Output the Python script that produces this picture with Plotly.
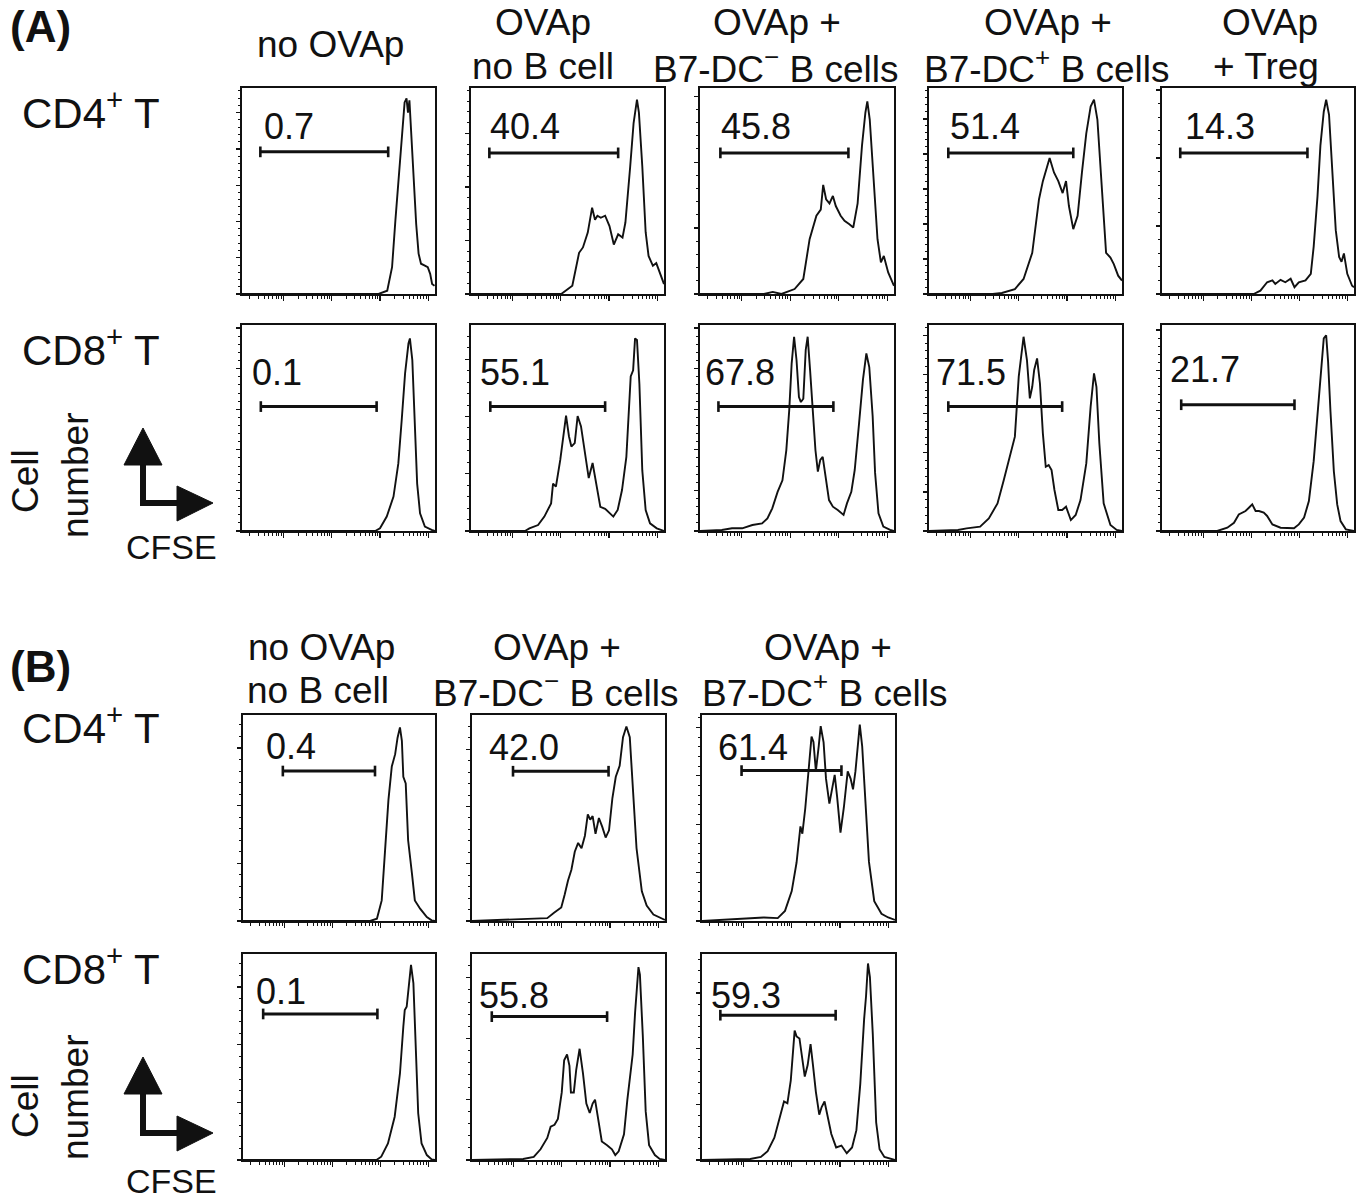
import numpy as np
import plotly.graph_objects as go

W, H = 1360, 1199
FONT = "Liberation Sans, Arial, Helvetica, sans-serif"
INK = "#111111"

# ---------------- DATA ----------------
# x = log10(CFSE intensity); y = cell number (% of panel scale)
# (A) CD4+ T
a4_noova_x = [-0.86, 1.97, 2.15, 2.25, 2.32, 2.39, 2.46, 2.51, 2.55, 2.58, 2.61, 2.64, 2.69, 2.75, 2.80, 2.85, 2.92, 2.99, 3.04, 3.08, 3.13]
a4_noova_y = [0, 0, 1.6, 13, 36, 58.7, 80, 93, 95, 88, 94, 81.6, 55.5, 34, 19.6, 14.7, 13.9, 13, 9.8, 4.9, 4]
a4_nob_x = [-0.86, 1.01, 1.24, 1.38, 1.46, 1.56, 1.65, 1.71, 1.76, 1.83, 1.92, 2.01, 2.10, 2.19, 2.28, 2.34, 2.44, 2.51, 2.58, 2.62, 2.69, 2.76, 2.82, 2.91, 2.98, 3.05, 3.14]
a4_nob_y = [0, 0, 4, 20, 22.6, 29.8, 41.9, 36, 38, 37, 38, 33, 24, 29, 27.4, 34.7, 62, 83, 94.4, 88, 62, 30, 18.5, 13.7, 15, 10.5, 4.8]
a4_neg_x = [-0.86, 0.46, 0.64, 0.82, 1.09, 1.27, 1.40, 1.54, 1.63, 1.68, 1.74, 1.81, 1.88, 1.94, 2.04, 2.12, 2.22, 2.30, 2.39, 2.48, 2.55, 2.59, 2.64, 2.71, 2.80, 2.87, 2.93, 3.02, 3.14]
a4_neg_y = [0, 0, 1, 0, 2.4, 7.3, 26.6, 38, 41, 53, 46, 44, 47.6, 42.7, 38, 35.5, 33.9, 32.3, 44, 72, 88, 93.5, 84.7, 58.9, 26.6, 15.3, 18.5, 10.5, 4]
a4_pos_x = [-0.86, 0.46, 0.65, 0.92, 1.10, 1.28, 1.42, 1.50, 1.64, 1.73, 1.82, 1.91, 1.98, 2.04, 2.13, 2.22, 2.31, 2.40, 2.49, 2.56, 2.63, 2.72, 2.81, 2.90, 2.97, 3.06, 3.14]
a4_pos_y = [0, 0, 0.5, 2.4, 7.3, 20, 46, 54.8, 66, 59, 54.8, 49, 54.8, 42.7, 31.5, 38, 59, 78, 91, 94.4, 84.7, 52, 20, 17.7, 14.5, 8.9, 6.5]
a4_treg_x = [-0.86, 1.05, 1.19, 1.33, 1.44, 1.50, 1.61, 1.71, 1.82, 1.90, 1.99, 2.13, 2.24, 2.30, 2.38, 2.44, 2.51, 2.56, 2.62, 2.69, 2.76, 2.83, 2.88, 2.93, 3.00, 3.10, 3.14]
a4_treg_y = [0, 0, 1.6, 5.7, 6.6, 4.9, 6.9, 5.7, 7.4, 3.3, 5.7, 6.6, 9.8, 23, 47.5, 72, 88.5, 94.3, 87, 55.7, 31, 18, 15.6, 19.7, 9.8, 4, 3.3]

# (A) CD8+ T
a8_noova_x = [-0.86, 1.90, 2.00, 2.14, 2.28, 2.38, 2.45, 2.52, 2.59, 2.62, 2.67, 2.72, 2.77, 2.83, 2.93, 3.07, 3.14]
a8_noova_y = [0, 0, 1.3, 7, 16.7, 32.8, 53.9, 76.5, 91, 93.5, 83, 54, 23, 8.6, 2.1, 0.5, 0]
a8_nob_x = [-0.86, 0.26, 0.35, 0.53, 0.66, 0.80, 0.84, 0.90, 0.99, 1.06, 1.11, 1.17, 1.22, 1.29, 1.35, 1.42, 1.51, 1.58, 1.66, 1.74, 1.82, 1.92, 2.00, 2.09, 2.18, 2.27, 2.36, 2.45, 2.50, 2.54, 2.58, 2.63, 2.69, 2.76, 2.85, 2.99, 3.14]
a8_nob_y = [0, 0, 1.3, 2.9, 7, 13.4, 23, 21.5, 34.5, 47.5, 56, 46, 41, 42.7, 55.8, 50.8, 37.9, 25.7, 33, 23, 11.7, 10.8, 9.2, 7, 10.2, 19.9, 36, 75, 78, 93.5, 92.7, 71.5, 29.4, 10.2, 3.7, 1.3, 0]
a8_neg_x = [-0.86, -0.41, -0.20, 0.01, 0.22, 0.42, 0.53, 0.63, 0.74, 0.84, 0.92, 0.98, 1.03, 1.08, 1.13, 1.18, 1.22, 1.27, 1.32, 1.36, 1.41, 1.46, 1.52, 1.57, 1.62, 1.67, 1.72, 1.80, 1.88, 1.98, 2.10, 2.17, 2.26, 2.33, 2.42, 2.50, 2.57, 2.63, 2.70, 2.75, 2.82, 2.92, 3.06, 3.14]
a8_neg_y = [0, 0.5, 1.3, 1.3, 2.9, 3.7, 6.1, 11, 19, 24.6, 39.3, 58.7, 81.4, 94.3, 83, 65, 62.6, 64.2, 87.9, 94.3, 78, 58.7, 39.3, 28.8, 34.5, 36, 28, 15, 11.8, 10.2, 7.8, 13.4, 19, 29.6, 52.4, 73.5, 86.2, 79.6, 55.7, 28.2, 8.6, 2.1, 0.5, 0]
a8_pos_x = [-0.86, -0.26, -0.08, 0.20, 0.38, 0.56, 0.69, 0.82, 0.92, 1.00, 1.10, 1.17, 1.23, 1.28, 1.32, 1.38, 1.44, 1.50, 1.56, 1.62, 1.68, 1.74, 1.82, 1.90, 1.98, 2.08, 2.18, 2.28, 2.40, 2.49, 2.56, 2.61, 2.67, 2.76, 2.90, 3.03, 3.14]
a8_pos_y = [0, 0.5, 1.3, 2.1, 6.1, 13.4, 24.8, 36, 45.8, 74.9, 94.3, 83, 64.4, 70, 78.2, 83.8, 71.5, 47.4, 31.2, 32, 29.6, 19.9, 10.2, 10.2, 11.8, 5.3, 7.8, 15, 32.8, 60.4, 76.5, 70, 42.7, 13.4, 2.9, 0.5, 0]
a8_treg_x = [-0.86, 0.29, 0.50, 0.64, 0.74, 0.81, 0.88, 0.95, 1.02, 1.09, 1.16, 1.26, 1.33, 1.44, 1.61, 1.89, 1.99, 2.10, 2.20, 2.30, 2.39, 2.46, 2.51, 2.56, 2.60, 2.65, 2.72, 2.79, 2.86, 2.97, 3.14]
a8_treg_y = [0, 0, 1.6, 4, 8, 8.9, 9.7, 11.3, 12.9, 9.7, 9.7, 8.9, 7.3, 3.2, 1.6, 1.3, 3.2, 6.5, 14.5, 33.9, 58, 80.6, 93.5, 95, 82.3, 58, 29, 12.9, 4.8, 0.8, 0]

# (B) CD4+ T
b4_noova_x = [-0.86, 1.79, 1.93, 2.03, 2.10, 2.17, 2.24, 2.31, 2.36, 2.41, 2.45, 2.48, 2.53, 2.58, 2.66, 2.72, 2.83, 2.97, 3.07, 3.14]
b4_noova_y = [0, 0, 1.1, 10, 34.4, 58.8, 75, 81, 89, 94, 87.5, 70, 66.8, 39.2, 23, 10, 6, 1.9, 0.3, 0]
b4_neg_x = [-0.86, 0.42, 0.70, 0.84, 0.99, 1.06, 1.13, 1.20, 1.27, 1.34, 1.41, 1.48, 1.54, 1.59, 1.64, 1.70, 1.77, 1.84, 1.91, 1.98, 2.05, 2.12, 2.20, 2.27, 2.34, 2.41, 2.48, 2.55, 2.66, 2.76, 2.90, 3.05, 3.14]
b4_neg_y = [0, 0.9, 1.4, 4, 6.6, 12.7, 19.7, 24.9, 33.6, 37.9, 35.3, 41.4, 51.8, 49.2, 50.9, 42.3, 50, 45.7, 40.5, 44, 59.7, 70, 75.3, 89.2, 94.4, 89.2, 64.8, 35.3, 14.4, 7.5, 3.1, 1.4, 0.5]
b4_pos_x = [-0.86, 0.14, 0.42, 0.71, 0.86, 1.00, 1.10, 1.18, 1.22, 1.28, 1.36, 1.41, 1.45, 1.50, 1.56, 1.60, 1.66, 1.71, 1.78, 1.84, 1.89, 1.94, 2.01, 2.08, 2.16, 2.22, 2.27, 2.32, 2.37, 2.41, 2.46, 2.53, 2.60, 2.71, 2.86, 3.00, 3.14]
b4_pos_y = [0, 1.4, 1.7, 1.4, 4.9, 14.5, 28.4, 45.9, 42.4, 54.6, 77.3, 89.5, 86.9, 72.8, 85, 94.6, 86.7, 69.1, 57, 65.6, 70.9, 60.4, 42.9, 55.1, 72.6, 69.1, 63.9, 72.6, 86.6, 95.3, 84.8, 55.1, 28.8, 9.6, 3.5, 1.7, 0.5]

# (B) CD8+ T
b8_noova_x = [-0.86, 1.92, 2.02, 2.16, 2.30, 2.41, 2.48, 2.51, 2.55, 2.61, 2.64, 2.69, 2.74, 2.79, 2.86, 2.97, 3.07, 3.14]
b8_noova_y = [0, 0, 1.6, 8, 21, 42, 64.7, 72.8, 74.4, 87.4, 94.7, 85.8, 58.3, 22.7, 8, 2.4, 0.3, 0]
b8_neg_x = [-0.86, 0.20, 0.42, 0.56, 0.70, 0.77, 0.85, 0.92, 1.00, 1.05, 1.11, 1.16, 1.19, 1.25, 1.30, 1.37, 1.44, 1.51, 1.58, 1.64, 1.69, 1.76, 1.83, 1.94, 2.04, 2.11, 2.18, 2.29, 2.36, 2.47, 2.52, 2.59, 2.62, 2.68, 2.74, 2.81, 2.93, 3.03, 3.14]
b8_neg_y = [0, 0.5, 1.5, 5.2, 10.7, 16.2, 17.1, 19.9, 32.8, 48.4, 51.2, 45.7, 32.8, 32.8, 43.8, 54, 42, 27.4, 22.8, 27.4, 29.3, 18.2, 9, 7.2, 5.2, 2.4, 4.2, 12.5, 29.3, 51.2, 71.5, 93.6, 90, 60.4, 23.6, 7.2, 2.4, 0.5, 0]
b8_pos_x = [-0.86, 0.14, 0.36, 0.50, 0.64, 0.75, 0.84, 0.91, 0.98, 1.06, 1.10, 1.16, 1.21, 1.27, 1.33, 1.39, 1.44, 1.50, 1.57, 1.62, 1.68, 1.75, 1.82, 1.92, 2.03, 2.14, 2.25, 2.34, 2.42, 2.50, 2.54, 2.58, 2.62, 2.68, 2.75, 2.82, 2.92, 3.14]
b8_pos_y = [0, 0.5, 1.5, 4.3, 10.8, 20, 28.4, 27.5, 38.7, 62.8, 60, 59, 49.6, 40.5, 46.1, 56.3, 46.1, 33.1, 22, 25.7, 28.4, 20, 12.6, 6.1, 7, 3.3, 6.1, 14.5, 36.8, 68.4, 79.6, 95.4, 88.8, 61, 18.2, 5.2, 1.5, 0]

# gate statistics (% divided cells), gate limits (log10 CFSE) and gate marker height
gate_pct_a4 = ["0.7", "40.4", "45.8", "51.4", "14.3"]
gate_lo_a4 = [-0.48, -0.48, -0.44, -0.46, -0.48]
gate_hi_a4 = [2.17, 2.19, 2.20, 2.13, 2.17]
gate_y_a4 = [69.0, 68.5, 68.5, 68.5, 68.5]

gate_pct_a8 = ["0.1", "55.1", "67.8", "71.5", "21.7"]
gate_lo_a8 = [-0.47, -0.46, -0.48, -0.46, -0.46]
gate_hi_a8 = [1.93, 1.92, 1.89, 1.90, 1.90]
gate_y_a8 = [60.4, 60.4, 60.4, 60.4, 61.3]

gate_pct_b4 = ["0.4", "42.0", "61.4"]
gate_lo_b4 = [-0.03, -0.01, -0.04]
gate_hi_b4 = [1.89, 1.97, 2.03]
gate_y_b4 = [72.8, 72.7, 73.0]

gate_pct_b8 = ["0.1", "55.8", "59.3"]
gate_lo_b8 = [-0.44, -0.45, -0.48]
gate_hi_b8 = [1.94, 1.94, 1.91]
gate_y_b8 = [70.9, 69.6, 70.3]

# ---------------- LAYOUT HELPERS ----------------
def px(x):
    return x / W

def py(y):
    return 1 - y / H

rows = {
    "a4": (88, 294), "a8": (325, 531), "b4": (715, 921), "b8": (954, 1160),
}
cols_a = [(242, 435), (471, 664), (700, 894), (929, 1122), (1162, 1354)]
cols_b = [(243, 435), (472, 665), (702, 895)]

panels = [
    # row, col box, x, y, gate index, label pos (fraction of panel), y tick spacing
    ("a4", cols_a[0], a4_noova_x, a4_noova_y, 0, (0.105, 0.815), 17.6),
    ("a4", cols_a[1], a4_nob_x, a4_nob_y, 1, (0.090, 0.815), 26),
    ("a4", cols_a[2], a4_neg_x, a4_neg_y, 2, (0.100, 0.815), 32),
    ("a4", cols_a[3], a4_pos_x, a4_pos_y, 3, (0.097, 0.815), 17),
    ("a4", cols_a[4], a4_treg_x, a4_treg_y, 4, (0.110, 0.815), 33),
    ("a8", cols_a[0], a8_noova_x, a8_noova_y, 0, (0.040, 0.77), 19.7),
    ("a8", cols_a[1], a8_nob_x, a8_nob_y, 1, (0.038, 0.77), 27.8),
    ("a8", cols_a[2], a8_neg_x, a8_neg_y, 2, (0.017, 0.77), 19.7),
    ("a8", cols_a[3], a8_pos_x, a8_pos_y, 3, (0.027, 0.77), 19),
    ("a8", cols_a[4], a8_treg_x, a8_treg_y, 4, (0.030, 0.785), 19.5),
    ("b4", cols_b[0], b4_noova_x, b4_noova_y, 0, (0.107, 0.846), 28),
    ("b4", cols_b[1], b4_neg_x, b4_neg_y, 1, (0.080, 0.84), 27.8),
    ("b4", cols_b[2], b4_pos_x, b4_pos_y, 2, (0.071, 0.84), 23.5),
    ("b8", cols_b[0], b8_noova_x, b8_noova_y, 0, (0.057, 0.82), 28),
    ("b8", cols_b[1], b8_neg_x, b8_neg_y, 1, (0.027, 0.80), 29.5),
    ("b8", cols_b[2], b8_pos_x, b8_pos_y, 2, (0.036, 0.80), 27),
]
gates = {
    "a4": (gate_pct_a4, gate_lo_a4, gate_hi_a4, gate_y_a4),
    "a8": (gate_pct_a8, gate_lo_a8, gate_hi_a8, gate_y_a8),
    "b4": (gate_pct_b4, gate_lo_b4, gate_hi_b4, gate_y_b4),
    "b8": (gate_pct_b8, gate_lo_b8, gate_hi_b8, gate_y_b8),
}

fig = go.Figure()
layout_axes = {}
annotations = []

for i, (row, (cx0, cx1), xs, ys, gi, (lx, ly), ydt) in enumerate(panels, start=1):
    xa = "x" if i == 1 else f"x{i}"
    ya = "y" if i == 1 else f"y{i}"
    ry0, ry1 = rows[row]
    pct, glo, ghi, gy = gates[row]

    fig.add_trace(go.Scatter(
        x=10 ** np.array(xs, dtype=float), y=ys, xaxis=xa, yaxis=ya,
        mode="lines", line=dict(color=INK, width=1.9),
        showlegend=False, hoverinfo="skip"))
    fig.add_trace(go.Scatter(
        x=10 ** np.array([glo[gi], ghi[gi]]), y=[gy[gi], gy[gi]], xaxis=xa, yaxis=ya,
        mode="lines", line=dict(color=INK, width=3),
        error_y=dict(type="constant", value=2.6, thickness=2.6, width=0, color=INK),
        showlegend=False, hoverinfo="skip"))
    annotations.append(dict(
        x=lx, y=ly, xref=f"{xa} domain", yref=f"{ya} domain", text=pct[gi], showarrow=False,
        xanchor="left", yanchor="middle", font=dict(size=36, color=INK, family=FONT)))

    layout_axes["xaxis" if i == 1 else f"xaxis{i}"] = dict(
        domain=[px(cx0), px(cx1)], anchor=ya, type="log", range=[-0.86, 3.14],
        showline=True, mirror=True, linecolor=INK, linewidth=1.6,
        ticks="outside", ticklen=5, tickwidth=1.3, tickcolor=INK, dtick=1,
        minor=dict(ticks="outside", ticklen=3, tickwidth=1, tickcolor=INK, dtick="D1", showgrid=False),
        showticklabels=False, showgrid=False, zeroline=False, fixedrange=True)
    layout_axes["yaxis" if i == 1 else f"yaxis{i}"] = dict(
        domain=[py(ry1), py(ry0)], anchor=xa, range=[0, 100],
        showline=True, mirror=True, linecolor=INK, linewidth=1.6,
        ticks="outside", ticklen=4, tickwidth=1.3, tickcolor=INK, tick0=0, dtick=ydt,
        minor=dict(ticks="outside", ticklen=2, tickwidth=1, tickcolor=INK, dtick=ydt / 5, showgrid=False),
        showticklabels=False, showgrid=False, zeroline=False, fixedrange=True)


def text(x, y, s, size=37, anchor="center", bold=False, angle=0):
    annotations.append(dict(
        x=px(x), y=py(y), xref="paper", yref="paper", text=(f"<b>{s}</b>" if bold else s),
        showarrow=False, xanchor=anchor, yanchor="middle", textangle=angle,
        font=dict(size=size, color=INK, family=FONT)))


# panel letters
text(8, 26, "(A)", size=44, anchor="left", bold=True)
text(8, 666, "(B)", size=44, anchor="left", bold=True)

# column headers (A)
text(330, 45, "no OVAp")
text(543, 23, "OVAp")
text(543, 66, "no B cell")
text(777, 23, "OVAp +")
text(775, 66, "B7-DC<sup>−</sup> B cells")
text(1048, 23, "OVAp +")
text(1046, 66, "B7-DC<sup>+</sup> B cells")
text(1270, 23, "OVAp")
text(1266, 66, "+ Treg")

# column headers (B)
text(321, 647, "no OVAp")
text(318, 690, "no B cell")
text(557, 647, "OVAp +")
text(555, 690, "B7-DC<sup>−</sup> B cells")
text(828, 647, "OVAp +")
text(825, 690, "B7-DC<sup>+</sup> B cells")

# row labels
for yy, lab in [(110, "CD4<sup>+</sup> T"), (347, "CD8<sup>+</sup> T"),
                (725, "CD4<sup>+</sup> T"), (966, "CD8<sup>+</sup> T")]:
    text(20, yy, lab, size=42, anchor="left")

# axis legend (Cell number / CFSE) with arrows
shapes = []
for (ycell, ynum, yshaft, yapex, ycfse) in [(481, 476, 503, 428, 547), (1106, 1098, 1133, 1057, 1181)]:
    text(25, ycell, "Cell", size=37, angle=-90)
    text(75, ynum, "number", size=37, angle=-90)
    text(171, ycfse, "CFSE", size=34)
    shapes.append(dict(type="line", xref="paper", yref="paper",
                       x0=px(143), x1=px(143), y0=py(yshaft + 3), y1=py(yapex + 34),
                       line=dict(color=INK, width=6)))
    shapes.append(dict(type="line", xref="paper", yref="paper",
                       x0=px(140), x1=px(180), y0=py(yshaft), y1=py(yshaft),
                       line=dict(color=INK, width=6)))
    shapes.append(dict(type="path", xref="paper", yref="paper",
                       path=f"M {px(124)},{py(yapex + 37)} L {px(162)},{py(yapex + 37)} L {px(143)},{py(yapex)} Z",
                       fillcolor=INK, line=dict(color=INK, width=1)))
    shapes.append(dict(type="path", xref="paper", yref="paper",
                       path=f"M {px(177)},{py(yshaft - 17)} L {px(177)},{py(yshaft + 18)} L {px(213)},{py(yshaft)} Z",
                       fillcolor=INK, line=dict(color=INK, width=1)))

fig.update_layout(
    width=W, height=H, margin=dict(l=0, r=0, t=0, b=0),
    paper_bgcolor="white", plot_bgcolor="white",
    font=dict(family=FONT, color=INK),
    annotations=annotations, shapes=shapes, showlegend=False,
    **layout_axes)

fig.write_html("out.html", config={"displayModeBar": False, "staticPlot": True},
               post_script="document.body.style.margin='0';document.body.style.overflow='hidden';")
